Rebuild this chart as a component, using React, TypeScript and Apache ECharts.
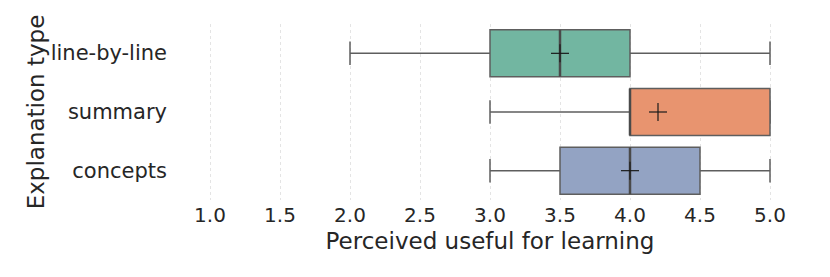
import React, { useEffect, useRef } from "react";
import * as echarts from "echarts";

const categories = ["line-by-line", "summary", "concepts"];
const whiskerLow = [2, 3, 3];
const q1 = [3, 4, 3.5];
const median = [3.5, 4, 4];
const q3 = [4, 5, 4.5];
const whiskerHigh = [5, 5, 5];
const means = [3.5, 4.2, 4.0];
const colors = ["#72b6a1", "#e8946f", "#93a3c3"];
const xTicks = [1, 1.5, 2, 2.5, 3, 3.5, 4, 4.5, 5];

const FONT = "DejaVu Sans";
const TEXT = "#262626";
const EDGE = "#5e5e5e";

export default function App() {
  const ref = useRef<HTMLDivElement>(null);
  useEffect(() => {
    if (!ref.current) return;
    const chart = echarts.init(ref.current, undefined, { renderer: "svg" });
    const data = categories.map((_, i) => [
      i,
      whiskerLow[i],
      q1[i],
      median[i],
      q3[i],
      whiskerHigh[i],
      means[i],
    ]);
    chart.setOption({
      animation: false,
      grid: { left: 210, right: 60, top: 24, bottom: 77 },
      xAxis: {
        type: "value",
        min: 1,
        max: 5,
        interval: 0.5,
        name: "Perceived useful for learning",
        nameLocation: "middle",
        nameGap: 28,
        nameTextStyle: { fontFamily: FONT, fontSize: 23, color: TEXT },
        axisLine: { show: false },
        axisTick: { show: false },
        axisLabel: {
          fontFamily: FONT,
          fontSize: 20,
          color: TEXT,
          margin: 5,
          formatter: (v: number) => (xTicks.includes(v) ? v.toFixed(1) : ""),
        },
        splitLine: {
          show: true,
          lineStyle: { color: "#e4e4e4", type: [3, 3], width: 1 },
        },
      },
      yAxis: {
        type: "category",
        data: categories,
        inverse: true,
        name: "Explanation type",
        nameLocation: "middle",
        nameGap: 163,
        nameMoveOverlap: false,
        nameTextStyle: { fontFamily: FONT, fontSize: 23, color: TEXT },
        axisLine: { show: false },
        axisTick: { show: false },
        axisLabel: { fontFamily: FONT, fontSize: 21, color: TEXT, margin: 43 },
        splitLine: { show: false },
      },
      series: [
        {
          type: "custom",
          data,
          encode: { x: [1, 2, 3, 4, 5, 6], y: 0 },
          renderItem: (params: any, api: any) => {
            const idx = api.value(0);
            const pLo = api.coord([api.value(1), idx]);
            const pQ1 = api.coord([api.value(2), idx]);
            const pMed = api.coord([api.value(3), idx]);
            const pQ3 = api.coord([api.value(4), idx]);
            const pHi = api.coord([api.value(5), idx]);
            const pMean = api.coord([api.value(6), idx]);
            const band = api.size([0, 1])[1];
            const h = band * 0.8;
            const cy = pMed[1];
            const lineStyle = { stroke: EDGE, lineWidth: 1.5 };
            const m = 9;
            return {
              type: "group",
              children: [
                { type: "line", shape: { x1: pLo[0], y1: cy, x2: pQ1[0], y2: cy }, style: lineStyle },
                { type: "line", shape: { x1: pQ3[0], y1: cy, x2: pHi[0], y2: cy }, style: lineStyle },
                { type: "line", shape: { x1: pLo[0], y1: cy - h / 4, x2: pLo[0], y2: cy + h / 4 }, style: lineStyle },
                { type: "line", shape: { x1: pHi[0], y1: cy - h / 4, x2: pHi[0], y2: cy + h / 4 }, style: lineStyle },
                {
                  type: "rect",
                  shape: { x: pQ1[0], y: cy - h / 2, width: pQ3[0] - pQ1[0], height: h },
                  style: { fill: colors[idx], stroke: EDGE, lineWidth: 1.5 },
                },
                {
                  type: "line",
                  shape: { x1: pMed[0], y1: cy - h / 2, x2: pMed[0], y2: cy + h / 2 },
                  style: { stroke: "#4a4a4a", lineWidth: 2.5 },
                },
                {
                  type: "line",
                  shape: { x1: pMean[0] - m, y1: cy, x2: pMean[0] + m, y2: cy },
                  style: { stroke: "#1a1a1a", lineWidth: 1.2 },
                },
                {
                  type: "line",
                  shape: { x1: pMean[0], y1: cy - m, x2: pMean[0], y2: cy + m },
                  style: { stroke: "#1a1a1a", lineWidth: 1.2 },
                },
              ],
            };
          },
        },
      ],
    });
    return () => chart.dispose();
  }, []);
  return <div ref={ref} style={{ width: 830, height: 277, position: "absolute", left: 0, top: 0 }} />;
}
